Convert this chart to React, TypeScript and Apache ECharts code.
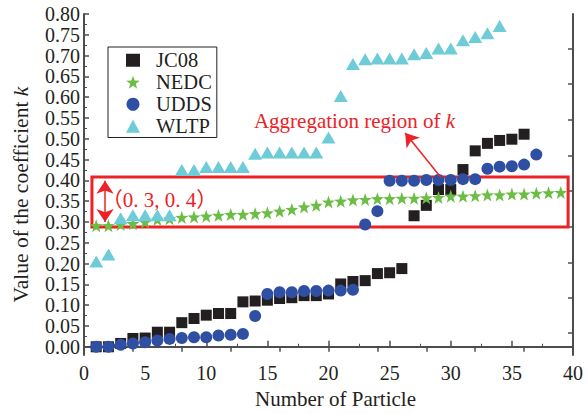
import React, { useEffect, useRef } from "react";
import * as echarts from "echarts";

// Series values (x = particle number 1..n)
const jc08 = [0.000, 0.000, 0.008, 0.020, 0.021, 0.035, 0.035, 0.058, 0.068, 0.076, 0.080, 0.080, 0.108,
  0.110, 0.112, 0.116, 0.118, 0.123, 0.123, 0.127, 0.151, 0.157, 0.159, 0.176, 0.178, 0.188,
  0.315, 0.340, 0.378, 0.378, 0.426, 0.471, 0.489, 0.496, 0.499, 0.511];
const nedc = [0.291, 0.291, 0.294, 0.296, 0.300, 0.306, 0.308, 0.311, 0.312, 0.314, 0.316, 0.318, 0.318,
  0.320, 0.322, 0.326, 0.330, 0.336, 0.340, 0.348, 0.350, 0.353, 0.354, 0.356, 0.356, 0.357,
  0.357, 0.358, 0.359, 0.362, 0.362, 0.363, 0.365, 0.365, 0.367, 0.367, 0.369, 0.370, 0.371];
const udds = [0.000, 0.000, 0.005, 0.008, 0.011, 0.015, 0.019, 0.021, 0.023, 0.023, 0.027, 0.029, 0.031,
  0.074, 0.127, 0.131, 0.131, 0.134, 0.134, 0.135, 0.135, 0.137, 0.294, 0.326, 0.399, 0.399,
  0.399, 0.401, 0.401, 0.401, 0.403, 0.403, 0.428, 0.433, 0.434, 0.438, 0.462];
const wltp = [0.205, 0.222, 0.309, 0.316, 0.316, 0.316, 0.316, 0.425, 0.425, 0.432, 0.432, 0.432, 0.432,
  0.464, 0.467, 0.467, 0.467, 0.467, 0.467, 0.503, 0.603, 0.680, 0.691, 0.693, 0.693, 0.693,
  0.703, 0.706, 0.717, 0.717, 0.737, 0.745, 0.754, 0.771];

const seriesNames = ["JC08", "NEDC", "UDDS", "WLTP"];

// Tick values
const yLabelValues = [0, 0.05, 0.1, 0.15, 0.2, 0.25, 0.3, 0.35, 0.4, 0.45, 0.5, 0.55, 0.6, 0.65, 0.7, 0.75, 0.8];
const yMinorValues = [0.025, 0.075, 0.125, 0.175, 0.225, 0.275, 0.325, 0.375, 0.425, 0.475, 0.525, 0.575, 0.625, 0.675, 0.725, 0.775];
const rightTickValues = [0.033, 0.118, 0.203, 0.288, 0.375, 0.46, 0.546, 0.632, 0.717];

// Annotation anchors (data coordinates)
const regionBox = { x0: 0.65, x1: 39.6, yLow: 0.288, yHigh: 0.408 };
const rangeArrow = { x: 1.72, yTop: 0.399, yBottom: 0.3 };
const rangeLabel = { x: 1.45, y: 0.352, text: "（0. 3, 0. 4）" };
const pointerArrow = { from: [29.2, 0.407], to: [26.27, 0.514] };
const regionLabel = { x: 22.13, y: 0.542 };

const FONT = "'Liberation Serif', 'Times New Roman', 'Noto Sans CJK SC', serif";
const RED = "#ec2227";
const INK = "#231f20";
const AXIS = "#4d4d4d";

const STAR = "path://M0,-10L2.35,-3.24L9.51,-3.09L3.8,1.24L5.88,8.09L0,4L-5.88,8.09L-3.8,1.24L-9.51,-3.09L-2.35,-3.24Z";

const toPts = (arr: number[]) => arr.map((v, i) => [i + 1, v]);

export default function App() {
  const ref = useRef<HTMLDivElement>(null);
  useEffect(() => {
    if (!ref.current) return;
    const chart = echarts.init(ref.current, null, { renderer: "svg" });
    const axisLine = { show: true, lineStyle: { color: AXIS, width: 2 } };
    const option: any = {
      animation: false,
      grid: { left: 84, right: 15, top: 14, bottom: 52 },
      legend: {
        data: seriesNames,
        orient: "vertical",
        left: 108,
        top: 47,
        itemWidth: 14,
        itemHeight: 13,
        itemGap: 1.5,
        padding: [3, 5, 1, 18],
        borderColor: INK,
        borderWidth: 1,
        backgroundColor: "#fff",
        textStyle: { fontFamily: FONT, fontSize: 20.5, lineHeight: 20, color: INK, padding: [0, 0, 0, 11] },
      },
      xAxis: [
        {
          type: "value", min: 0, max: 40, interval: 5, position: "bottom",
          axisLine,
          axisTick: { inside: true, length: 6, lineStyle: { color: AXIS, width: 1.5 } },
          minorTick: { show: true, splitNumber: 2, length: 3, lineStyle: { color: AXIS, width: 1 } },
          splitLine: { show: false },
          axisLabel: { fontFamily: FONT, fontSize: 20, color: INK, margin: 8 },
          name: "Number of Particle", nameLocation: "middle", nameGap: 30,
          nameTextStyle: { fontFamily: FONT, fontSize: 21, color: INK, padding: [0, 0, 0, 14] },
        },
        {
          type: "value", min: 0, max: 40, interval: 4, position: "top",
          axisLine,
          axisTick: { inside: true, length: 5, lineStyle: { color: AXIS, width: 1.5 } },
          axisLabel: { show: false },
          splitLine: { show: false },
        },
      ],
      yAxis: [
        {
          type: "value", min: -0.02, max: 0.8, position: "left",
          axisLine,
          axisTick: { inside: true, length: 5, customValues: yLabelValues, lineStyle: { color: AXIS, width: 1.5 } },
          axisLabel: {
            customValues: yLabelValues,
            formatter: (v: number) => v.toFixed(2),
            fontFamily: FONT, fontSize: 20, color: INK, margin: 4,
          },
          splitLine: { show: false },
          name: "{a|Value of the coefficient }{k|k}",
          nameLocation: "middle", nameGap: 52,
          nameTextStyle: {
            fontFamily: FONT, fontSize: 21.5, color: INK, padding: [0, 20, 0, 0],
            rich: {
              a: { fontFamily: FONT, fontSize: 21.5, color: INK },
              k: { fontFamily: FONT, fontSize: 21.5, color: INK, fontStyle: "italic" },
            },
          },
        },
        {
          type: "value", min: -0.02, max: 0.8, position: "left",
          axisLine: { show: false },
          axisTick: { inside: true, length: 3, customValues: yMinorValues, lineStyle: { color: AXIS, width: 1 } },
          axisLabel: { show: false },
          splitLine: { show: false },
        },
        {
          type: "value", min: -0.02, max: 0.8, position: "right",
          axisLine,
          axisTick: { inside: true, length: 5, customValues: rightTickValues, lineStyle: { color: AXIS, width: 1.5 } },
          axisLabel: { show: false },
          splitLine: { show: false },
        },
      ],
      series: [
        {
          name: "JC08", type: "scatter", data: toPts(jc08), symbol: "rect", symbolSize: 11,
          itemStyle: { color: INK, opacity: 1 }, z: 2,
          markArea: {
            silent: true,
            itemStyle: { color: "rgba(0,0,0,0)", borderColor: RED, borderWidth: 3 },
            label: { show: false },
            data: [[{ coord: [regionBox.x0, regionBox.yHigh] }, { coord: [regionBox.x1, regionBox.yLow] }]],
          },
          markLine: {
            silent: true,
            animation: false,
            label: { show: false },
            lineStyle: { color: RED, width: 1.5, type: "solid" },
            symbolSize: 13,
            data: [
              [
                { coord: [rangeArrow.x, rangeArrow.yTop], symbol: "arrow" },
                { coord: [rangeArrow.x, rangeArrow.yBottom], symbol: "arrow" },
              ],
              [
                { coord: pointerArrow.from, symbol: "none" },
                { coord: pointerArrow.to, symbol: "arrow" },
              ],
            ],
          },
          markPoint: {
            silent: true,
            data: [
              {
                coord: [regionLabel.x, regionLabel.y], symbol: "circle", symbolSize: 0,
                label: {
                  show: true, position: "inside",
                  formatter: "{a|Aggregation region of }{k|k}",
                  rich: {
                    a: { fontFamily: FONT, fontSize: 21, color: RED },
                    k: { fontFamily: FONT, fontSize: 21, color: RED, fontStyle: "italic" },
                  },
                },
              },
              {
                coord: [rangeLabel.x, rangeLabel.y], symbol: "circle", symbolSize: 0,
                label: {
                  show: true, position: "right", distance: 0,
                  formatter: rangeLabel.text,
                  fontFamily: FONT, fontSize: 21, color: RED,
                },
              },
            ],
          },
        },
        { name: "NEDC", type: "scatter", data: toPts(nedc), symbol: STAR, symbolSize: 13, itemStyle: { color: "#6cbd45", opacity: 1 }, z: 3 },
        { name: "UDDS", type: "scatter", data: toPts(udds), symbol: "circle", symbolSize: 12, itemStyle: { color: "#2f4fa2", opacity: 1 }, z: 4 },
        { name: "WLTP", type: "scatter", data: toPts(wltp), symbol: "triangle", symbolSize: [14, 12], itemStyle: { color: "#6ecbd8", opacity: 1 }, z: 5 },
      ],
    };
    chart.setOption(option);
    return () => chart.dispose();
  }, []);
  return <div ref={ref} style={{ width: 588, height: 414, position: "absolute", left: 0, top: 0 }} />;
}
